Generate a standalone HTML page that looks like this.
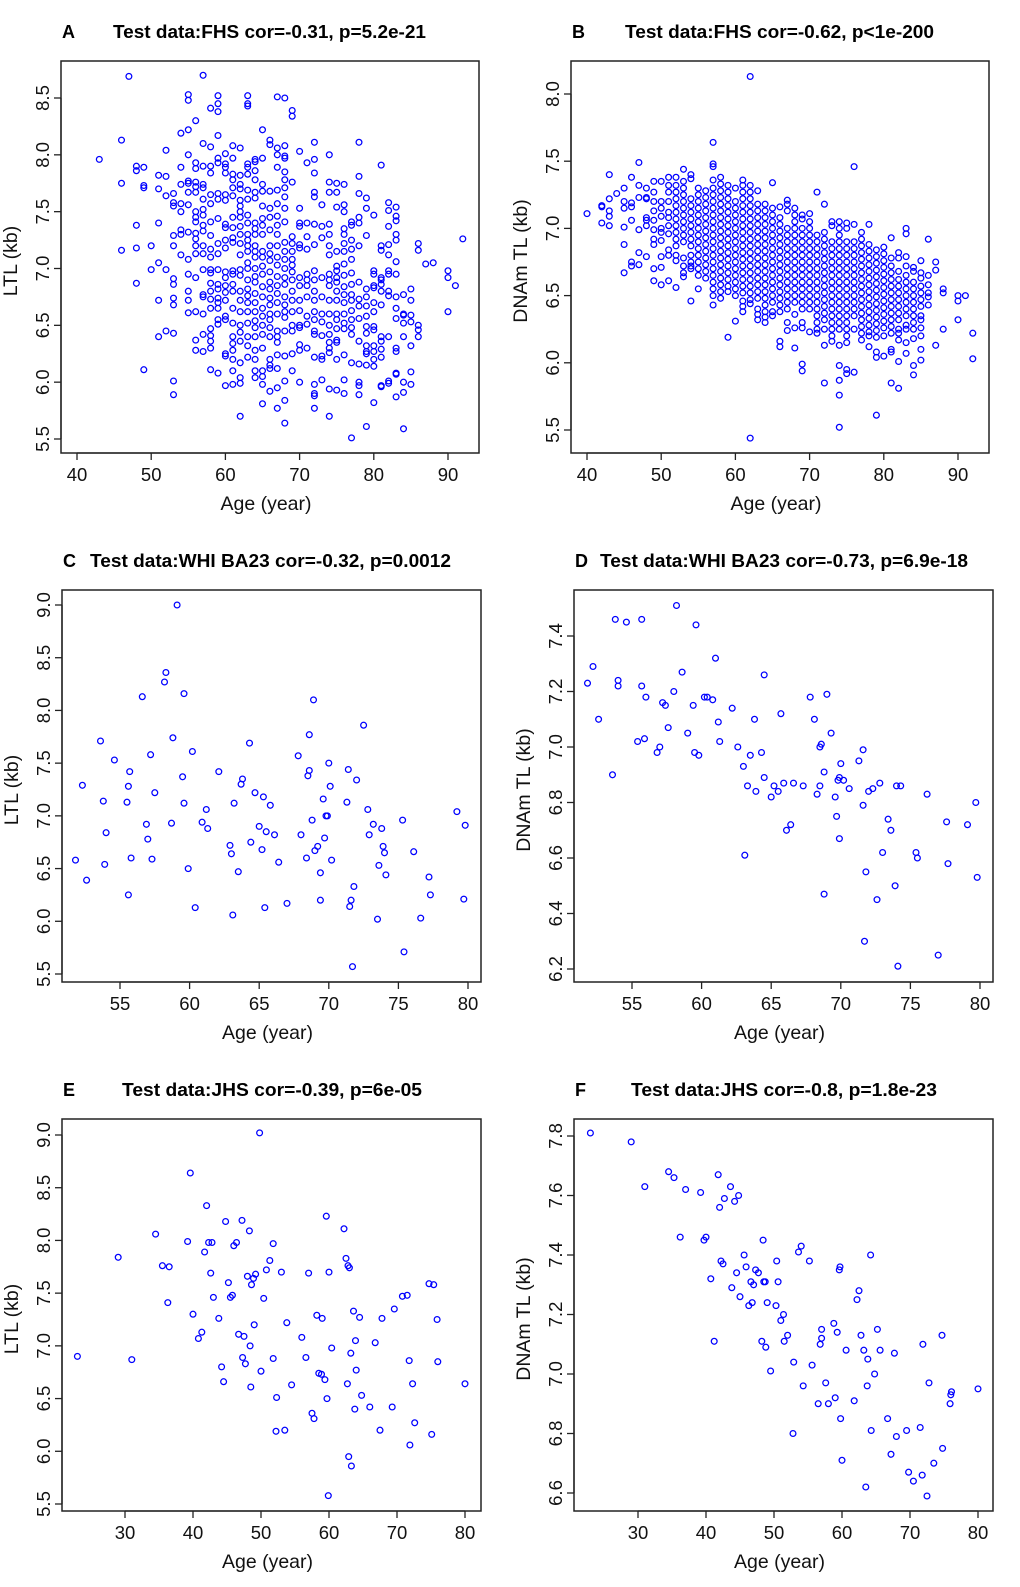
<!DOCTYPE html>
<html><head><meta charset="utf-8"><style>
html,body{margin:0;padding:0;background:#fff;}
svg{display:block;font-family:"Liberation Sans",Arial,sans-serif;}
</style></head><body>
<svg id="fig" width="1020" height="1587" viewBox="0 0 1020 1587" xmlns="http://www.w3.org/2000/svg"></svg>
<script>
// ---------- DATA ----------
const aGroups=[[43,[7.96]],[46,[8.13,7.75,7.16]],[47,[8.69]],[48,[7.9,7.86,7.38,7.18,6.87]],[49,[7.89,7.73,7.71,6.11]],[50,[7.2,6.99]],
[51,[7.82,7.7,7.4,7.05,6.72,6.4]],[52,[8.04,7.81,7.64,6.99,6.45]],[53,[7.66,7.58,7.55,7.29,7.2,6.91,6.86,6.74,6.68,6.43,6.01,5.89]],
[54,[8.19,7.89,7.74,7.57,7.5,7.34,7.3,7.12]],[55,[8.53,8.48,8.22,8.0,7.77,7.75,7.67,7.56,7.32,7.08,6.95,6.8,6.72,6.61]],
[56,[8.3,7.93,7.88,7.76,7.72,7.67,7.5,7.45,7.41,7.31,7.26,7.2,7.13,6.92,6.62,6.37,6.28]],
[57,[8.7,8.1,7.9,7.74,7.71,7.61,7.52,7.47,7.38,7.33,7.2,7.13,6.99,6.77,6.75,6.6,6.42,6.27]],
[58,[8.41,8.07,7.9,7.84,7.65,7.57,7.41,7.29,7.17,7.1,6.99,6.96,6.87,6.8,6.73,6.65,6.47,6.41,6.36,6.3,6.11]],
[59,[8.52,8.45,8.38,8.17,7.97,7.93,7.66,7.61,7.44,7.22,7.13,6.99,6.86,6.82,6.74,6.7,6.65,6.55,6.51,6.08]],
[60,[8.01,7.92,7.89,7.84,7.65,7.6,7.39,7.36,7.25,7.18,6.97,6.92,6.85,6.79,6.72,6.58,6.55,6.25,6.23,5.97]],
[61,[8.08,7.97,7.83,7.78,7.71,7.64,7.45,7.36,7.27,7.23,6.98,6.95,6.86,6.8,6.65,6.52,6.4,6.34,6.28,6.2,6.1,5.98]],
[62,[8.06,7.82,7.74,7.7,7.6,7.55,7.5,7.45,7.37,7.3,7.22,7.12,6.99,6.94,6.8,6.72,6.62,6.5,6.44,6.36,6.17,6.04,5.99,5.7]],
[63,[8.52,8.45,8.43,7.92,7.89,7.83,7.69,7.61,7.47,7.4,7.3,7.25,7.2,7.15,7.05,7.0,6.9,6.82,6.76,6.7,6.62,6.52,6.4,6.32,6.22]],
[64,[7.96,7.94,7.86,7.78,7.67,7.62,7.4,7.35,7.3,7.2,7.15,7.1,7.0,6.93,6.88,6.78,6.7,6.62,6.54,6.48,6.4,6.28,6.2,6.1,6.04]],
[65,[8.22,7.97,7.74,7.68,7.55,7.44,7.38,7.3,7.15,7.1,7.02,6.95,6.84,6.75,6.65,6.58,6.5,6.42,6.3,6.1,6.05,5.98,5.81]],
[66,[8.13,8.09,7.68,7.53,7.45,7.34,7.2,7.13,7.07,6.97,6.88,6.82,6.74,6.68,6.6,6.55,6.48,6.4,6.2,6.15,6.12,5.92]],
[67,[8.51,8.06,8.0,7.89,7.69,7.57,7.46,7.38,7.3,7.2,7.1,7.03,6.93,6.85,6.78,6.7,6.6,6.45,6.4,6.35,6.24,6.12,5.95,5.77]],
[68,[8.5,8.08,7.99,7.97,7.85,7.78,7.71,7.63,7.53,7.41,7.23,7.15,7.08,7.0,6.92,6.86,6.75,6.68,6.62,6.57,6.45,6.23,6.01,5.84,5.64]],
[69,[8.39,8.34,7.76,7.28,7.22,7.15,7.08,7.03,6.97,6.9,6.8,6.72,6.62,6.5,6.45,6.25,6.1]],
[70,[8.03,7.53,7.4,7.37,7.21,7.18,6.92,6.85,6.72,6.63,6.5,6.48,6.33,6.28,6.0]],
[71,[7.93,7.4,7.28,7.17,6.95,6.9,6.85,6.75,6.58,6.51,6.3]],
[72,[8.11,7.96,7.84,7.67,7.63,7.39,7.21,6.98,6.9,6.8,6.72,6.62,6.55,6.45,6.42,6.22,5.98,5.9,5.88,5.77]],
[73,[7.56,7.37,7.27,6.92,6.75,6.6,6.53,6.41,6.23,6.2,6.02]],
[74,[8.0,7.76,7.67,7.39,7.3,7.2,7.12,6.95,6.9,6.85,6.72,6.6,6.5,6.42,6.35,6.3,6.26,5.94,5.7]],
[75,[7.75,7.67,7.54,7.15,7.02,6.98,6.92,6.88,6.8,6.72,6.6,6.55,6.47,6.37,6.35,6.2,5.93]],
[76,[7.74,7.56,7.5,7.35,7.3,7.22,7.15,7.04,6.94,6.84,6.77,6.7,6.6,6.52,6.47,6.24,6.02,5.9]],
[77,[7.41,7.38,7.25,7.17,7.08,6.96,6.86,6.77,6.72,6.63,6.55,6.48,6.42,6.17,5.51]],
[78,[8.11,7.81,7.66,7.45,7.4,7.2,6.88,6.73,6.67,6.56,6.36,6.16,6.0,5.97,5.89]],
[79,[7.62,7.53,7.29,6.82,6.75,6.67,6.58,6.49,6.43,6.32,6.27,6.25,6.15,5.61]],
[80,[7.47,6.98,6.95,6.85,6.83,6.7,6.62,6.49,6.46,6.32,6.27,6.2,6.14,5.82]],
[81,[7.91,7.2,7.16,6.92,6.9,6.86,6.8,6.68,6.4,6.36,6.29,6.22,5.97,5.96]],
[82,[7.58,7.51,7.37,7.21,7.12,6.98,6.95,6.8,6.76,6.4,6.01,5.99]],
[83,[7.54,7.46,7.42,7.3,7.25,7.06,6.95,6.75,6.65,6.56,6.3,6.27,6.08,6.07,5.87]],
[84,[6.77,6.6,6.59,6.52,6.4,6.0,5.91,5.59]],[85,[6.82,6.72,6.59,6.53,6.32,6.09,5.98]],[86,[7.22,7.16,6.5,6.46,6.4]],
[87,[7.04]],[88,[7.05]],[90,[6.98,6.92,6.62]],[91,[6.85]],[92,[7.26]]];

const bGroups=[[40,[7.11]],[42,[7.17,7.16,7.04]],[43,[7.4,7.22,7.13,7.09,7.02]],[44,[7.26]],[45,[7.3,7.2,7.15,7.01,6.88,6.67]],
[46,[7.38,7.19,7.16,7.06,6.75,6.72]],[47,[7.49,7.32,7.23,6.99,6.82,6.73]],[48,[7.3,7.23,7.22,7.08,7.06,7.02,6.79]],
[49,[7.35,7.27,7.2,7.13,7.06,6.99,6.92,6.88,6.7,6.61]],[50,[7.35,7.2,7.15,7.09,7.0,6.97,6.91,6.79,6.71,6.58]],
[51,[7.38,7.32,7.27,7.2,7.12,7.08,7.02,6.96,6.84,6.8,6.61]],[52,[7.38,7.32,7.27,7.22,7.17,7.12,7.07,7.02,6.97,6.92,6.87,6.8,6.76,6.56]],
[53,[7.44,7.35,7.3,7.25,7.2,7.15,7.1,7.05,7.0,6.95,6.9,6.78,6.72,6.67,6.64]],
[54,[7.4,7.37,7.22,7.17,7.12,7.07,7.02,6.97,6.92,6.87,6.8,6.75,6.72,6.7,6.46]],
[55,[7.3,7.25,7.2,7.15,7.1,7.05,7.0,6.95,6.9,6.85,6.8,6.75,6.7,6.65,6.55]],
[56,[7.28,7.23,7.18,7.13,7.08,7.03,6.98,6.93,6.88,6.83,6.78,6.73,6.68,6.63]],
[57,[7.64,7.48,7.46,7.36,7.3,7.25,7.2,7.15,7.1,7.05,7.0,6.95,6.9,6.85,6.8,6.75,6.7,6.65,6.6,6.55,6.5,6.43]],
[58,[7.38,7.33,7.28,7.23,7.18,7.13,7.08,7.03,6.98,6.93,6.88,6.83,6.78,6.73,6.68,6.63,6.58,6.53,6.48]],
[59,[7.32,7.27,7.22,7.17,7.12,7.07,7.02,6.97,6.92,6.87,6.82,6.77,6.72,6.67,6.62,6.57,6.53,6.19]],
[60,[7.3,7.2,7.15,7.1,7.05,7.0,6.95,6.9,6.85,6.8,6.75,6.7,6.65,6.6,6.55,6.5,6.31]],
[61,[7.36,7.32,7.27,7.22,7.17,7.12,7.07,7.02,6.97,6.92,6.87,6.82,6.77,6.72,6.67,6.62,6.57,6.52,6.46,6.42,6.38]],
[62,[8.13,7.32,7.27,7.22,7.17,7.12,7.07,7.02,6.97,6.92,6.87,6.82,6.77,6.72,6.67,6.62,6.57,6.52,6.47,6.44,5.44]],
[63,[7.28,7.18,7.13,7.08,7.03,6.98,6.93,6.88,6.83,6.78,6.73,6.68,6.63,6.58,6.53,6.48,6.4,6.36,6.32]],
[64,[7.18,7.13,7.08,7.03,6.98,6.93,6.88,6.83,6.78,6.73,6.68,6.63,6.58,6.53,6.48,6.43,6.38,6.34,6.3]],
[65,[7.34,7.15,7.1,7.05,7.0,6.95,6.9,6.85,6.8,6.75,6.7,6.65,6.6,6.55,6.5,6.45,6.38,6.35]],
[66,[7.16,7.08,7.03,6.98,6.93,6.88,6.83,6.78,6.73,6.68,6.63,6.58,6.53,6.48,6.43,6.38,6.16,6.12]],
[67,[7.21,7.18,7.13,7.0,6.95,6.9,6.85,6.8,6.75,6.7,6.65,6.6,6.55,6.5,6.45,6.4,6.3,6.24]],
[68,[7.15,7.1,7.05,7.0,6.95,6.9,6.85,6.8,6.75,6.7,6.65,6.6,6.55,6.5,6.45,6.36,6.26,6.11]],
[69,[7.1,7.07,7.0,6.95,6.9,6.85,6.8,6.75,6.7,6.65,6.6,6.55,6.5,6.45,6.4,6.3,6.26,5.99,5.94]],
[70,[7.11,7.05,7.0,6.95,6.9,6.85,6.8,6.75,6.7,6.65,6.6,6.55,6.5,6.45,6.4,6.23]],
[71,[7.27,6.95,6.9,6.85,6.8,6.75,6.7,6.65,6.6,6.55,6.5,6.45,6.4,6.35,6.3,6.25,6.22]],
[72,[7.18,6.97,6.92,6.87,6.82,6.77,6.72,6.67,6.62,6.57,6.52,6.47,6.42,6.37,6.32,6.25,6.13,5.85]],
[73,[7.05,7.02,6.9,6.85,6.8,6.75,6.7,6.65,6.6,6.55,6.5,6.45,6.4,6.35,6.3,6.25,6.2,6.16]],
[74,[7.05,7.0,6.95,6.9,6.85,6.8,6.75,6.7,6.65,6.6,6.55,6.5,6.45,6.4,6.35,6.3,6.25,6.13,5.98,5.87,5.76,5.52]],
[75,[7.04,7.0,6.9,6.85,6.8,6.75,6.7,6.65,6.6,6.55,6.5,6.45,6.4,6.35,6.3,6.25,6.2,6.15,5.95,5.92]],
[76,[7.46,7.03,6.9,6.85,6.8,6.75,6.7,6.65,6.6,6.55,6.5,6.45,6.4,6.35,6.25,5.93]],
[77,[6.97,6.92,6.87,6.82,6.77,6.72,6.67,6.62,6.57,6.52,6.47,6.42,6.37,6.32,6.27,6.22,6.17]],
[78,[7.03,6.88,6.83,6.78,6.73,6.68,6.63,6.58,6.53,6.48,6.43,6.38,6.33,6.28,6.23,6.2,6.12]],
[79,[6.84,6.79,6.74,6.69,6.64,6.59,6.54,6.49,6.44,6.39,6.34,6.29,6.24,6.19,6.08,6.04,5.61]],
[80,[6.86,6.81,6.76,6.71,6.66,6.61,6.56,6.51,6.46,6.41,6.36,6.31,6.26,6.2,6.05]],
[81,[6.93,6.78,6.72,6.67,6.62,6.57,6.52,6.47,6.42,6.37,6.32,6.27,6.22,6.1,6.08,5.85]],
[82,[6.82,6.78,6.68,6.62,6.57,6.52,6.47,6.42,6.37,6.32,6.25,6.22,6.17,6.01,5.81]],
[83,[7.0,6.96,6.79,6.72,6.65,6.6,6.55,6.5,6.45,6.4,6.35,6.28,6.25,6.15,6.07]],
[84,[6.71,6.68,6.6,6.55,6.5,6.45,6.4,6.35,6.3,6.25,6.18,5.98,5.91]],
[85,[6.76,6.67,6.63,6.57,6.52,6.47,6.42,6.35,6.32,6.26,6.2,6.1,6.02]],
[86,[6.92,6.65,6.58,6.52,6.49,6.43]],[87,[6.75,6.69,6.13]],[88,[6.55,6.52,6.25]],[90,[6.5,6.46,6.32]],[91,[6.5]],[92,[6.22,6.03]]];

const cAge=[51.8,52.3,52.6,53.6,53.8,54,53.9,54.6,55.5,55.6,55.7,55.6,55.8,56.6,56.9,57,57.2,57.3,57.5,58.2,58.3,58.7,58.8,59.1,59.5,59.6,59.6,59.9,60.2,60.4,60.9,61.2,61.3,62.1,62.9,63,63.1,63.2,63.5,63.7,63.8,64.3,64.4,64.7,65,65.2,65.3,65.4,65.5,65.8,66.1,66.4,67,67.8,68,68.4,68.5,68.6,68.6,68.8,68.9,69,69.2,69.4,69.4,69.6,69.7,69.8,69.9,70,70.1,70.2,71.3,71.4,71.5,71.6,71.7,71.8,72,72.5,72.8,72.9,73.2,73.5,73.6,73.8,73.9,74,74.1,75.3,75.4,76.1,76.6,77.2,77.3,79.2,79.7,79.8];
const cLtl=[6.58,7.29,6.39,7.71,7.14,6.84,6.54,7.53,7.13,7.28,7.42,6.25,6.60,8.13,6.92,6.78,7.58,6.59,7.22,8.27,8.36,6.93,7.74,9.0,7.37,7.12,8.16,6.50,7.61,6.13,6.94,7.06,6.88,7.42,6.72,6.64,6.06,7.12,6.47,7.3,7.35,7.69,6.75,7.22,6.90,6.68,7.18,6.13,6.85,7.10,6.82,6.56,6.17,7.57,6.82,6.60,7.38,7.43,7.77,6.96,8.1,6.67,6.71,6.20,6.46,7.16,6.79,7.0,7.0,7.50,7.28,6.58,7.13,7.44,6.14,6.20,5.57,6.33,7.34,7.86,7.06,6.82,6.92,6.02,6.53,6.88,6.71,6.65,6.44,6.96,5.71,6.66,6.03,6.42,6.25,7.04,6.21,6.91];

const dAge=[51.8,52.2,52.6,53.6,53.8,54,54,54.6,55.4,55.7,55.7,55.9,56,56.8,57,57.2,57.4,57.6,58,58.2,58.6,59,59.4,59.5,59.6,59.8,60.2,60.4,60.8,61,61.2,61.3,62.2,62.6,63,63.1,63.3,63.5,63.8,63.9,64.3,64.5,64.5,65,65.2,65.5,65.7,65.9,66.1,66.4,66.6,67.3,67.8,68.1,68.3,68.5,68.5,68.6,68.8,68.8,69,69.3,69.6,69.7,69.8,69.9,69.9,70,70.2,70.6,71.3,71.6,71.6,71.7,71.8,72,72.3,72.6,72.8,73,73.4,73.6,73.9,74,74.1,74.3,75.4,75.5,76.2,77,77.6,77.7,79.1,79.7,79.8];
const dDnam=[7.23,7.29,7.10,6.90,7.46,7.22,7.24,7.45,7.02,7.46,7.22,7.03,7.18,6.98,7.00,7.16,7.15,7.07,7.20,7.51,7.27,7.05,7.15,6.98,7.44,6.97,7.18,7.18,7.17,7.32,7.09,7.02,7.14,7.00,6.93,6.61,6.86,6.97,7.10,6.84,6.98,6.89,7.26,6.82,6.86,6.84,7.12,6.87,6.70,6.72,6.87,6.86,7.18,7.10,6.83,6.86,7.00,7.01,6.91,6.47,7.19,7.05,6.82,6.75,6.88,6.67,6.89,6.94,6.88,6.85,6.95,6.79,6.99,6.30,6.55,6.84,6.85,6.45,6.87,6.62,6.74,6.70,6.50,6.86,6.21,6.86,6.62,6.60,6.83,6.25,6.73,6.58,6.72,6.80,6.53];

const eAge=[23,29,31,34.5,35.5,36.3,36.5,39.2,39.6,40,40.8,41.3,41.7,42,42.3,42.6,42.8,43,43.8,44.2,44.5,44.8,45.2,45.5,45.8,46,46.4,46.7,47.2,47.3,47.5,47.7,48,48.3,48.4,48.5,48.6,48.9,49,49.2,49.8,50,50.4,50.8,51.3,51.8,51.8,52.3,52.2,53,53.5,53.8,54.5,56,56.6,57,57.5,57.8,58.2,58.5,58.9,59,59.4,59.6,59.7,59.9,60,60.4,62.2,62.5,62.8,63,62.7,62.9,63.2,63.3,63.6,63.8,63.9,64,64.5,64.8,66,66.8,67.5,67.8,69.3,69.6,70.8,71.5,71.8,71.9,72.3,72.6,74.7,75.1,75.4,75.9,76,80];
const eLtl=[6.90,7.84,6.87,8.06,7.76,7.41,7.75,7.99,8.64,7.30,7.07,7.13,7.89,8.33,7.98,7.69,7.98,7.46,7.26,6.80,6.66,8.18,7.60,7.46,7.48,7.95,7.98,7.11,8.19,6.89,7.09,6.83,7.66,8.09,7.00,6.61,7.58,7.64,7.20,7.68,9.02,6.76,7.45,7.72,7.81,6.88,7.97,6.51,6.19,7.70,6.20,7.22,6.63,7.08,6.89,7.69,6.36,6.31,7.29,6.74,6.73,7.26,6.68,8.23,6.50,5.58,7.70,6.98,8.11,7.83,7.76,7.74,6.64,5.95,6.93,5.86,7.33,6.40,7.05,6.77,7.27,6.53,6.42,7.03,6.20,7.26,6.42,7.35,7.47,7.48,6.86,6.06,6.64,6.27,7.59,6.16,7.58,7.25,6.85,6.64];

const fAge=[23,29,31,34.5,35.3,36.2,37,39.2,39.7,40,40.7,41.2,41.8,42,42.2,42.5,42.7,43.6,43.8,44.2,44.5,44.8,45,45.6,45.9,46.3,46.6,46.8,47,47.3,47.7,48.2,48.4,48.5,48.7,48.8,49,49.5,50.3,50.4,50.6,51,51.4,51.5,52,52.8,52.9,53.6,54,54.3,55.2,55.6,56.5,56.8,57,57,57.6,58,58.8,59,59.3,59.6,59.7,59.8,60,60.6,61.8,62.2,62.5,62.8,63.2,63.5,63.7,63.8,64.2,64.3,64.8,65.2,65.6,66.7,67.2,67.7,68,69.5,69.8,70.5,71.5,71.8,72.5,71.9,72.8,73.5,74.7,74.8,76,76.1,75.9,80];
const fDnam=[7.81,7.78,7.63,7.68,7.66,7.46,7.62,7.61,7.45,7.46,7.32,7.11,7.67,7.56,7.38,7.37,7.59,7.63,7.29,7.58,7.34,7.60,7.26,7.40,7.36,7.23,7.31,7.24,7.30,7.35,7.34,7.11,7.45,7.31,7.31,7.09,7.24,7.01,7.23,7.38,7.31,7.18,7.20,7.11,7.13,6.80,7.04,7.41,7.43,6.96,7.38,7.03,6.90,7.10,7.15,7.12,6.97,6.90,7.17,6.92,7.14,7.35,7.36,6.85,6.71,7.08,6.91,7.25,7.28,7.13,7.08,6.62,6.96,7.05,7.40,6.81,7.00,7.15,7.08,6.85,6.73,7.07,6.79,6.81,6.67,6.64,6.82,6.66,6.59,7.10,6.97,6.70,7.13,6.75,6.93,6.94,6.90,6.95];

const ticksAgeAB=[40,50,60,70,80,90];
const ticksAgeCD=[55,60,65,70,75,80];
const ticksAgeEF=[30,40,50,60,70,80];
const ticksA=[5.5,6.0,6.5,7.0,7.5,8.0,8.5];
const ticksB=[5.5,6.0,6.5,7.0,7.5,8.0];
const ticksC=[5.5,6.0,6.5,7.0,7.5,8.0,8.5,9.0];
const ticksD=[6.2,6.4,6.6,6.8,7.0,7.2,7.4];
const ticksF=[6.6,6.8,7.0,7.2,7.4,7.6,7.8];

function flatX(g){const o=[];g.forEach(p=>p[1].forEach(()=>o.push(p[0])));return o;}
function flatY(g){const o=[];g.forEach(p=>p[1].forEach(v=>o.push(v)));return o;}

// ---------- DRAW ----------
const NS="http://www.w3.org/2000/svg";
const svg=document.getElementById('fig');
function el(tag,attrs,parent,txt){const e=document.createElementNS(NS,tag);for(const k in attrs)e.setAttribute(k,attrs[k]);if(txt!==undefined)e.textContent=txt;(parent||svg).appendChild(e);return e;}
function fmt(v){return v.toFixed(1);}

function panel(p){
  const g=el('g',{});
  
  
  const sx=v=>p.xp[0]+(v-p.xv[0])*(p.xp[1]-p.xp[0])/(p.xv[1]-p.xv[0]);
  const sy=v=>p.yp[0]+(v-p.yv[0])*(p.yp[1]-p.yp[0])/(p.yv[1]-p.yv[0]);
  const L=p.box[0],R=p.box[1],T=p.box[2],B=p.box[3];
  const lt=el('text',{x:L+1,y:T-23,'font-size':18,'font-weight':'bold',fill:'#000'},g,p.id);
  
  
  const tt=el('text',{x:p.tx[0],y:T-23,'font-size':18,'font-weight':'bold',fill:'#000',textLength:p.tx[1]-p.tx[0],lengthAdjust:'spacingAndGlyphs'},g,p.title);
  
  
  const pg=el('g',{fill:'none',stroke:'#0000ff','stroke-width':1.25},g);
  
  
  for(let i=0;i<p.x.length;i++){
    const c=el('circle',{cx:sx(p.x[i]).toFixed(1),cy:sy(p.y[i]).toFixed(1),r:2.9},pg);
    
    
  }
  const bx=el('rect',{x:L,y:T,width:R-L,height:B-T,fill:'none',stroke:'#222','stroke-width':1.5},g);
  
  
  const xa=el('g',{},g);
  
  
  el('line',{x1:sx(p.xt[0]),x2:sx(p.xt[p.xt.length-1]),y1:B,y2:B,stroke:'#222','stroke-width':1.3},xa);
  p.xt.forEach(t=>{
    const X=sx(t);
    el('line',{x1:X,x2:X,y1:B,y2:B+7,stroke:'#222','stroke-width':1.3},xa);
    const lb=el('text',{x:X,y:B+28,'font-size':18.5,'text-anchor':'middle',fill:'#111'},xa,String(t));
    
    
  });
  const xt=el('text',{x:(L+R)/2-4,y:B+57,'font-size':19.5,'text-anchor':'middle',fill:'#111'},g,'Age (year)');
  
  
  const ya=el('g',{},g);
  
  
  el('line',{x1:L,x2:L,y1:sy(p.yt[0]),y2:sy(p.yt[p.yt.length-1]),stroke:'#222','stroke-width':1.3},ya);
  p.yt.forEach(t=>{
    const Y=sy(t);
    el('line',{x1:L-7,x2:L,y1:Y,y2:Y,stroke:'#222','stroke-width':1.3},ya);
    const lb=el('text',{x:0,y:0,'font-size':18.5,'text-anchor':'middle',fill:'#111',transform:`translate(${L-12},${Y}) rotate(-90)`},ya,fmt(t));
    
    
  });
  const yt=el('text',{x:0,y:0,'font-size':19.5,'text-anchor':'middle',fill:'#111',transform:`translate(${L-44},${(T+B)/2+4}) rotate(-90)`},g,p.ylab);
  
  
}

panel({id:'A',title:'Test data:FHS cor=-0.31, p=5.2e-21',tx:[113,426],box:[61,479,61,453],xp:[77,448],xv:[40,90],yp:[98,439],yv:[8.5,5.5],xt:ticksAgeAB,yt:ticksA,ylab:'LTL (kb)',x:flatX(aGroups),y:flatY(aGroups)});
panel({id:'B',title:'Test data:FHS cor=-0.62, p<1e-200',tx:[625,934],box:[571,989,61,453],xp:[587,958],xv:[40,90],yp:[94,430],yv:[8.0,5.5],xt:ticksAgeAB,yt:ticksB,ylab:'DNAm TL (kb)',x:flatX(bGroups),y:flatY(bGroups)});
panel({id:'C',title:'Test data:WHI BA23 cor=-0.32, p=0.0012',tx:[90,451],box:[62,481,590,982],xp:[120,468],xv:[55,80],yp:[605,974],yv:[9.0,5.5],xt:ticksAgeCD,yt:ticksC,ylab:'LTL (kb)',x:cAge,y:cLtl});
panel({id:'D',title:'Test data:WHI BA23 cor=-0.73, p=6.9e-18',tx:[600,968],box:[574,993,590,982],xp:[632,980],xv:[55,80],yp:[636,969],yv:[7.4,6.2],xt:ticksAgeCD,yt:ticksD,ylab:'DNAm TL (kb)',x:dAge,y:dDnam});
panel({id:'E',title:'Test data:JHS cor=-0.39, p=6e-05',tx:[122,422],box:[62,481,1119,1511],xp:[125,465],xv:[30,80],yp:[1135,1504],yv:[9.0,5.5],xt:ticksAgeEF,yt:ticksC,ylab:'LTL (kb)',x:eAge,y:eLtl});
panel({id:'F',title:'Test data:JHS cor=-0.8, p=1.8e-23',tx:[631,937],box:[574,993,1119,1511],xp:[638,978],xv:[30,80],yp:[1136,1493],yv:[7.8,6.6],xt:ticksAgeEF,yt:ticksF,ylab:'DNAm TL (kb)',x:fAge,y:fDnam});
</script>
</body></html>
